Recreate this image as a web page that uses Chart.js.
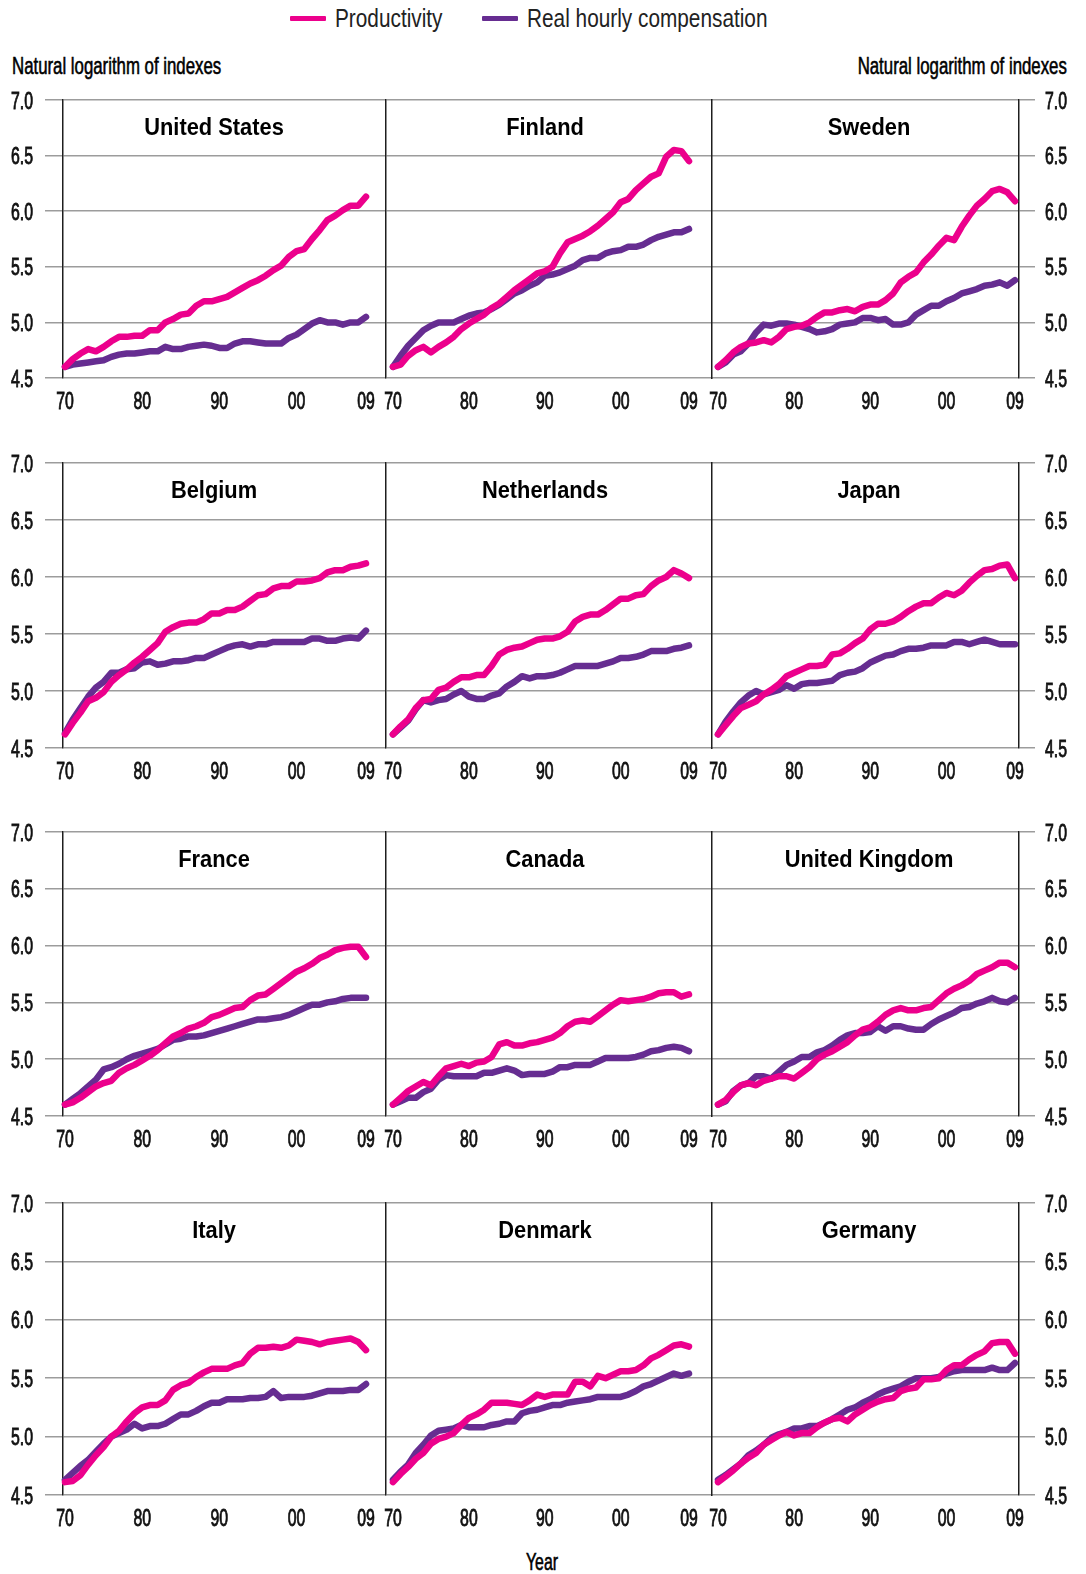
<!DOCTYPE html>
<html><head><meta charset="utf-8">
<script src="https://cdn.jsdelivr.net/npm/chart.js@4.4.1/dist/chart.umd.min.js"></script>
<style>
html,body{margin:0;padding:0;background:#fff;}
body{width:1086px;height:1574px;position:relative;overflow:hidden;font-family:"Liberation Sans",Arial,sans-serif;}
.wrap{position:absolute;}
.txt{position:absolute;white-space:nowrap;color:#111;line-height:1;}
.med{-webkit-text-stroke:0.6px #000;}
.sw{position:absolute;height:5px;width:36px;border-radius:1px;}
</style></head><body>
<div class="sw" style="left:290px;top:16px;background:#EC008C"></div>
<div class="txt" style="left:335px;top:18px;font-size:26px;color:#222;transform-origin:left center;transform:translateY(-50%) scaleX(0.8);">Productivity</div>
<div class="sw" style="left:482px;top:16px;background:#662D91"></div>
<div class="txt" style="left:527px;top:18px;font-size:26px;color:#222;transform-origin:left center;transform:translateY(-50%) scaleX(0.8);">Real hourly compensation</div>
<div class="txt med" style="left:12px;top:66px;font-size:24px;color:#000;transform-origin:left center;transform:translateY(-50%) scaleX(0.7);">Natural logarithm of indexes</div>
<div class="txt med" style="right:19px;top:66px;font-size:24px;color:#000;transform-origin:right center;transform:translateY(-50%) scaleX(0.7);">Natural logarithm of indexes</div>
<div class="txt med" style="left:542px;top:1562px;font-size:24px;color:#000;transform:translate(-50%,-50%) scaleX(0.66);">Year</div>
<script>
// ---- Data ----
const years = [1970,1971,1972,1973,1974,1975,1976,1977,1978,1979,1980,1981,1982,1983,1984,1985,1986,1987,1988,1989,1990,1991,1992,1993,1994,1995,1996,1997,1998,1999,2000,2001,2002,2003,2004,2005,2006,2007,2008,2009];
const seriesNames = ['Productivity','Real hourly compensation'];
const countries = ['United States','Finland','Sweden','Belgium','Netherlands','Japan','France','Canada','United Kingdom','Italy','Denmark','Germany'];
const xTickYears = [1970,1980,1990,2000,2009];
const xTickLabels = ['70','80','90','00','09'];
const yTicks = [4.5,5.0,5.5,6.0,6.5,7.0];
const yTickLabels = ['4.5','5.0','5.5','6.0','6.5','7.0'];

const prodUS = [4.60,4.67,4.72,4.76,4.74,4.78,4.83,4.87,4.87,4.88, 4.88,4.93,4.93,5.00,5.03,5.07,5.08,5.15,5.19,5.19, 5.21,5.23,5.27,5.31,5.35,5.38,5.42,5.47,5.51,5.59, 5.64,5.66,5.75,5.83,5.92,5.96,6.01,6.05,6.05,6.13];
const compUS = [4.60,4.62,4.63,4.64,4.65,4.66,4.69,4.71,4.72,4.72, 4.73,4.74,4.74,4.78,4.76,4.76,4.78,4.79,4.80,4.79, 4.77,4.77,4.81,4.83,4.83,4.82,4.81,4.81,4.81,4.86, 4.89,4.94,4.99,5.02,5.00,5.00,4.98,5.00,5.00,5.05];
const prodFI = [4.60,4.62,4.70,4.75,4.78,4.73,4.78,4.82,4.87,4.94, 4.99,5.03,5.07,5.13,5.17,5.23,5.29,5.34,5.39,5.44, 5.46,5.50,5.62,5.72,5.75,5.78,5.82,5.87,5.93,5.99, 6.08,6.11,6.19,6.25,6.31,6.34,6.49,6.55,6.54,6.45];
const compFI = [4.60,4.70,4.79,4.86,4.93,4.97,5.00,5.00,5.00,5.03, 5.06,5.08,5.09,5.12,5.16,5.21,5.26,5.29,5.33,5.36, 5.42,5.43,5.45,5.48,5.51,5.56,5.58,5.58,5.62,5.64, 5.65,5.68,5.68,5.70,5.74,5.77,5.79,5.81,5.81,5.84];
const prodSE = [4.60,4.66,4.73,4.78,4.81,4.82,4.84,4.82,4.87,4.94, 4.96,4.97,5.00,5.05,5.09,5.09,5.11,5.12,5.10,5.14, 5.16,5.16,5.20,5.26,5.36,5.41,5.45,5.54,5.61,5.69, 5.76,5.74,5.86,5.96,6.05,6.11,6.18,6.20,6.17,6.09];
const compSE = [4.60,4.64,4.71,4.74,4.81,4.91,4.98,4.97,4.99,4.99, 4.98,4.96,4.94,4.91,4.92,4.94,4.98,4.99,5.00,5.04, 5.04,5.02,5.03,4.98,4.98,5.00,5.07,5.11,5.15,5.15, 5.19,5.22,5.26,5.28,5.30,5.33,5.34,5.36,5.33,5.38];
const prodBE = [4.62,4.72,4.81,4.91,4.94,4.99,5.08,5.14,5.19,5.25, 5.30,5.36,5.42,5.52,5.56,5.59,5.60,5.60,5.63,5.68, 5.68,5.71,5.71,5.74,5.79,5.84,5.85,5.90,5.92,5.92, 5.96,5.96,5.97,5.99,6.04,6.06,6.06,6.09,6.10,6.12];
const compBE = [4.63,4.75,4.85,4.95,5.03,5.08,5.16,5.16,5.19,5.20, 5.25,5.26,5.23,5.24,5.26,5.26,5.27,5.29,5.29,5.32, 5.35,5.38,5.40,5.41,5.39,5.41,5.41,5.43,5.43,5.43, 5.43,5.43,5.46,5.46,5.44,5.44,5.46,5.47,5.46,5.53];
const prodNL = [4.62,4.69,4.75,4.85,4.92,4.93,5.01,5.03,5.08,5.12, 5.12,5.14,5.14,5.22,5.32,5.36,5.38,5.39,5.42,5.45, 5.46,5.46,5.48,5.52,5.61,5.65,5.67,5.67,5.71,5.76, 5.81,5.81,5.84,5.85,5.92,5.97,6.00,6.06,6.03,5.99];
const compNL = [4.62,4.68,4.74,4.84,4.92,4.90,4.92,4.93,4.97,5.00, 4.95,4.93,4.93,4.96,4.98,5.04,5.08,5.13,5.11,5.13, 5.13,5.14,5.16,5.19,5.22,5.22,5.22,5.22,5.24,5.26, 5.29,5.29,5.30,5.32,5.35,5.35,5.35,5.37,5.38,5.40];
const prodJP = [4.62,4.70,4.78,4.85,4.88,4.91,4.97,5.01,5.06,5.13, 5.16,5.19,5.22,5.22,5.23,5.32,5.33,5.37,5.42,5.46, 5.54,5.59,5.59,5.61,5.65,5.70,5.74,5.77,5.77,5.82, 5.86,5.84,5.88,5.95,6.01,6.06,6.07,6.10,6.11,5.99];
const compJP = [4.62,4.73,4.82,4.90,4.96,5.00,4.97,4.99,5.01,5.05, 5.02,5.06,5.07,5.07,5.08,5.09,5.14,5.16,5.17,5.20, 5.25,5.28,5.31,5.32,5.35,5.37,5.37,5.38,5.40,5.40, 5.40,5.43,5.43,5.41,5.43,5.45,5.43,5.41,5.41,5.41];
const prodFR = [4.60,4.62,4.66,4.71,4.76,4.79,4.81,4.88,4.92,4.95, 4.99,5.03,5.08,5.14,5.20,5.23,5.27,5.29,5.32,5.37, 5.39,5.42,5.45,5.46,5.52,5.56,5.57,5.62,5.67,5.72, 5.77,5.80,5.84,5.89,5.92,5.96,5.98,5.99,5.99,5.90];
const compFR = [4.60,4.65,4.70,4.76,4.82,4.91,4.93,4.96,5.00,5.03, 5.05,5.07,5.09,5.13,5.17,5.18,5.20,5.20,5.21,5.23, 5.25,5.27,5.29,5.31,5.33,5.35,5.35,5.36,5.37,5.39, 5.42,5.45,5.48,5.48,5.50,5.51,5.53,5.54,5.54,5.54];
const prodCA = [4.60,4.66,4.72,4.76,4.80,4.77,4.85,4.92,4.94,4.96, 4.94,4.97,4.98,5.02,5.13,5.15,5.12,5.12,5.14,5.15, 5.17,5.19,5.23,5.29,5.33,5.34,5.33,5.38,5.43,5.48, 5.52,5.51,5.52,5.53,5.55,5.58,5.59,5.59,5.55,5.57];
const compCA = [4.60,4.63,4.66,4.66,4.71,4.74,4.82,4.86,4.85,4.85, 4.85,4.85,4.88,4.88,4.90,4.92,4.90,4.86,4.87,4.87, 4.87,4.89,4.93,4.93,4.95,4.95,4.95,4.98,5.01,5.01, 5.01,5.01,5.02,5.04,5.07,5.08,5.10,5.11,5.10,5.07];
const prodUK = [4.60,4.64,4.71,4.77,4.79,4.77,4.81,4.83,4.85,4.85, 4.83,4.88,4.93,5.00,5.04,5.07,5.11,5.15,5.21,5.26, 5.28,5.33,5.39,5.43,5.45,5.43,5.43,5.45,5.46,5.52, 5.58,5.62,5.65,5.69,5.75,5.78,5.81,5.85,5.85,5.81];
const compUK = [4.60,4.63,4.72,4.77,4.79,4.85,4.85,4.83,4.89,4.95, 4.98,5.02,5.02,5.06,5.08,5.12,5.17,5.21,5.23,5.23, 5.24,5.29,5.25,5.29,5.29,5.27,5.26,5.26,5.31,5.35, 5.38,5.41,5.45,5.46,5.49,5.51,5.54,5.51,5.50,5.54];
const prodIT = [4.61,4.62,4.67,4.76,4.84,4.91,5.00,5.05,5.13,5.20, 5.25,5.27,5.27,5.31,5.40,5.44,5.46,5.51,5.55,5.58, 5.58,5.58,5.61,5.63,5.71,5.76,5.76,5.77,5.76,5.78, 5.83,5.82,5.81,5.79,5.81,5.82,5.83,5.84,5.81,5.74];
const compIT = [4.63,4.69,4.75,4.80,4.87,4.94,5.00,5.03,5.06,5.11, 5.07,5.09,5.09,5.11,5.15,5.19,5.19,5.22,5.26,5.29, 5.29,5.32,5.32,5.32,5.33,5.33,5.34,5.39,5.33,5.34, 5.34,5.34,5.35,5.37,5.39,5.39,5.39,5.40,5.40,5.45];
const prodDK = [4.61,4.68,4.74,4.81,4.86,4.94,4.98,5.00,5.03,5.10, 5.16,5.19,5.23,5.29,5.29,5.29,5.28,5.27,5.31,5.36, 5.34,5.36,5.36,5.36,5.47,5.47,5.43,5.52,5.50,5.53, 5.56,5.56,5.57,5.61,5.67,5.70,5.74,5.78,5.79,5.77];
const compDK = [4.63,4.70,4.76,4.86,4.93,5.01,5.05,5.06,5.07,5.10, 5.08,5.08,5.08,5.10,5.11,5.13,5.13,5.20,5.22,5.23, 5.25,5.27,5.27,5.29,5.30,5.31,5.32,5.34,5.34,5.34, 5.34,5.36,5.39,5.43,5.45,5.48,5.51,5.54,5.52,5.54];
const prodDE = [4.61,4.66,4.71,4.77,4.82,4.86,4.93,4.97,5.01,5.04, 5.01,5.03,5.03,5.08,5.12,5.15,5.16,5.13,5.19,5.23, 5.27,5.30,5.32,5.33,5.39,5.41,5.42,5.49,5.49,5.50, 5.57,5.61,5.61,5.66,5.70,5.73,5.80,5.81,5.81,5.71];
const compDE = [4.63,4.67,4.72,4.77,4.84,4.88,4.93,4.99,5.02,5.04, 5.07,5.07,5.09,5.09,5.12,5.15,5.19,5.23,5.25,5.29, 5.32,5.36,5.39,5.41,5.43,5.47,5.50,5.50,5.50,5.51, 5.54,5.56,5.57,5.57,5.57,5.57,5.59,5.57,5.57,5.63];

const prodSeries = [prodUS,prodFI,prodSE,prodBE,prodNL,prodJP,prodFR,prodCA,prodUK,prodIT,prodDK,prodDE];
const compSeries = [compUS,compFI,compSE,compBE,compNL,compJP,compFR,compCA,compUK,compIT,compDK,compDE];

// ---- Layout / style ----
const PINK = '#EC008C', PURPLE = '#662D91', GRID = '#9c9c9c', AXIS = '#1e1e1e';
const rowsPos = [{top:100,bottom:378},{top:463,bottom:748},{top:832,bottom:1116},{top:1203,bottom:1495}];
const colsPos = [
  {left:0,   right:386,  axL:63, axR:0,  xmin:1969.74, xmax:2011.59, titleX:214},
  {left:370, right:712,  axL:16, axR:0,  xmin:1969.08, xmax:2012.03, titleX:545},
  {left:696, right:1086, axL:16, axR:67, xmin:1969.21, xmax:2009.53, titleX:869}
];
const PAD_TOP = 16, XAX_H = 45;
const LBL_FAMILY = '"Liberation Sans",Arial,sans-serif';
const LBL = {size:24, sx:0.66, xGap:31, leftGap:30, rightGap:26};

// Tick labels drawn condensed at the positions given by the chart's own scales.
function condensedTickLabels(spec){
  return {id:'condensedTickLabels', afterDraw(chart){
    const ctx = chart.ctx;
    Object.keys(spec).forEach(id => {
      const s = chart.scales[id], o = spec[id];
      ctx.save();
      ctx.font = LBL.size + 'px ' + LBL_FAMILY;
      ctx.fillStyle = '#111';
      ctx.strokeStyle = '#111';
      ctx.lineWidth = 0.9;
      ctx.textBaseline = 'alphabetic';
      o.values.forEach((v,i) => {
        const p = s.getPixelForValue(v);
        let x, y;
        if (o.kind === 'x') { x = p; y = s.top + LBL.xGap; ctx.textAlign = 'center'; }
        else if (o.kind === 'left') { x = s.right - LBL.leftGap; y = p + LBL.size*0.358; ctx.textAlign = 'right'; }
        else { x = s.left + LBL.rightGap; y = p + LBL.size*0.358; ctx.textAlign = 'left'; }
        ctx.save(); ctx.translate(x,y); ctx.scale(LBL.sx,1);
        ctx.fillText(o.labels[i],0,0); ctx.strokeText(o.labels[i],0,0);
        ctx.restore();
      });
      ctx.restore();
    });
  }};
}

function pts(arr){ return years.map((yr,i)=>({x:yr,y:arr[i]})); }
function yTickSetter(s){ s.ticks = yTicks.map(v=>({value:v})); }

countries.forEach((name, idx) => {
  const r = rowsPos[Math.floor(idx/3)], c = colsPos[idx%3], col = idx%3;
  const w = c.right - c.left, h = (r.bottom - r.top) + PAD_TOP + XAX_H;
  const wrap = document.createElement('div');
  wrap.className = 'wrap';
  wrap.style.cssText = `left:${c.left}px;top:${r.top-PAD_TOP}px;width:${w}px;height:${h}px;`;
  const cv = document.createElement('canvas');
  cv.width = w; cv.height = h; cv.style.width = w+'px'; cv.style.height = h+'px';
  wrap.appendChild(cv); document.body.appendChild(wrap);

  const labelSpec = {x:{kind:'x', values:xTickYears, labels:xTickLabels}};
  const scales = {
    x: {type:'linear', position:'bottom', min:c.xmin, max:c.xmax,
        grid:{display:false}, border:{display:false},
        afterBuildTicks: s => { s.ticks = xTickYears.map(v=>({value:v})); },
        ticks:{display:false},
        afterFit: s => { s.height = XAX_H; }}
  };
  if (col === 0) {
    scales.y = {type:'linear', position:'left', min:4.5, max:7.0, afterBuildTicks:yTickSetter,
      grid:{color:GRID, lineWidth:1.5, drawTicks:true, tickLength:18, tickColor:GRID},
      border:{display:true, color:AXIS, width:1.5},
      ticks:{display:false},
      afterFit: s => { s.width = c.axL; }};
    labelSpec.y = {kind:'left', values:yTicks, labels:yTickLabels};
  } else if (col === 1) {
    scales.y = {type:'linear', position:'left', min:4.5, max:7.0, afterBuildTicks:yTickSetter,
      grid:{color:GRID, lineWidth:1.5, drawTicks:false},
      border:{display:true, color:AXIS, width:1.5},
      ticks:{display:false},
      afterFit: s => { s.width = c.axL; }};
  } else {
    scales.y = {type:'linear', position:'left', min:4.5, max:7.0, afterBuildTicks:yTickSetter,
      grid:{display:false, drawTicks:false},
      border:{display:true, color:AXIS, width:1.5},
      ticks:{display:false},
      afterFit: s => { s.width = c.axL; }};
    scales.y2 = {type:'linear', position:'right', min:4.5, max:7.0, afterBuildTicks:yTickSetter,
      grid:{color:GRID, lineWidth:1.5, drawTicks:true, tickLength:16, tickColor:GRID},
      border:{display:true, color:AXIS, width:1.5},
      ticks:{display:false},
      afterFit: s => { s.width = c.axR; }};
    labelSpec.y2 = {kind:'right', values:yTicks, labels:yTickLabels};
  }

  const lineDs = (label, arr, color) => ({label, data:pts(arr), borderColor:color, backgroundColor:color,
     borderWidth:6.5, pointRadius:0, tension:0, borderCapStyle:'round', borderJoinStyle:'round', clip:false, yAxisID:'y'});

  new Chart(cv, {
    type:'line',
    data:{datasets:[lineDs(seriesNames[0], prodSeries[idx], PINK), lineDs(seriesNames[1], compSeries[idx], PURPLE)]},
    options:{responsive:false, animation:false, devicePixelRatio:1,
      layout:{autoPadding:false, padding:{top:PAD_TOP, left:0, right:0, bottom:0}},
      plugins:{legend:{display:false}, tooltip:{enabled:false}},
      scales},
    plugins:[condensedTickLabels(labelSpec)]
  });

  const t = document.createElement('div');
  t.className = 'txt';
  t.textContent = name;
  t.style.cssText += `left:${c.titleX}px;top:${r.top+27}px;font-size:24px;font-weight:bold;color:#000;transform:translate(-50%,-50%) scaleX(0.91);`;
  document.body.appendChild(t);
});
</script>
</body></html>
